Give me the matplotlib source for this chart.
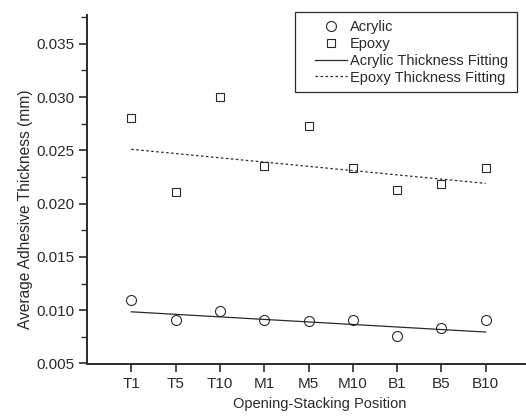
import matplotlib
matplotlib.use("Agg")
import matplotlib.pyplot as plt
from matplotlib.patches import Rectangle
from matplotlib.ticker import MultipleLocator

plt.rcParams['font.family'] = ['Liberation Sans', 'DejaVu Sans']

positions = ['T1', 'T5', 'T10', 'M1', 'M5', 'M10', 'B1', 'B5', 'B10']
acrylic = [0.0110, 0.0091, 0.0099, 0.0091, 0.0090, 0.0091, 0.0076, 0.0083, 0.0091]
epoxy = [0.0280, 0.0211, 0.0300, 0.0235, 0.0273, 0.0233, 0.0213, 0.0218, 0.0233]
# fitted line values at first and last position
acrylic_fit = [0.00985, 0.00795]
epoxy_fit = [0.0251, 0.0219]

ink = '#2a2a2a'
x = list(range(1, len(positions) + 1))

fig = plt.figure(figsize=(5.26, 4.16), dpi=100)
ax = fig.add_axes([87 / 526, 1 - 363.5 / 416, 443 / 526, 348.5 / 416])

ax.plot(x, acrylic, linestyle='none', marker='o', markersize=7.2,
        markerfacecolor='none', markeredgecolor=ink, markeredgewidth=0.8,
        label='Acrylic')
ax.plot(x, epoxy, linestyle='none', marker='s', markersize=6.3,
        markerfacecolor='none', markeredgecolor=ink, markeredgewidth=0.8,
        label='Epoxy')
ax.plot([x[0], x[-1]], acrylic_fit, color=ink, linewidth=0.9,
        label='Acrylic Thickness Fitting')
ax.plot([x[0], x[-1]], epoxy_fit, color=ink, linewidth=0.9,
        linestyle=(0, (2, 2)), label='Epoxy Thickness Fitting')

ax.set_xlim(0, 10)
ax.set_ylim(0.005, 0.0377)
ax.set_xticks(x)
ax.set_xticklabels(positions)
ax.yaxis.set_minor_locator(MultipleLocator(0.0025))
ax.set_yticks([0.005, 0.010, 0.015, 0.020, 0.025, 0.030, 0.035])
ax.set_yticklabels(['0.005', '0.010', '0.015', '0.020', '0.025', '0.030', '0.035'])

for side in ['top', 'right']:
    ax.spines[side].set_visible(False)
for side in ['left', 'bottom']:
    ax.spines[side].set_linewidth(1.4)
    ax.spines[side].set_color(ink)

ax.tick_params(axis='both', which='major', direction='out', length=6,
               width=1.2, color=ink, labelsize=11, labelcolor=ink, pad=3)
ax.tick_params(axis='y', which='minor', direction='out', length=4,
               width=1.0, color=ink)
ax.tick_params(axis='x', pad=4)

ax.set_xlabel('Opening-Stacking Position', fontsize=10.5, color=ink)
ax.set_ylabel('Average Adhesive Thickness (mm)', fontsize=11.2, color=ink)
ax.xaxis.set_label_coords((320 - 87) / 443, -(397 - 363.5) / 348.5)
ax.yaxis.set_label_coords(-(87 - 33) / 443, (363.5 - 209) / 348.5)

leg = ax.legend(loc='upper right', bbox_to_anchor=(515 / 526, 1 - 12.5 / 416),
                bbox_transform=fig.transFigure, fontsize=10.5,
                frameon=False, handlelength=2.2, handletextpad=0.15,
                labelspacing=0.2, borderpad=0.5, borderaxespad=0)
for t in leg.get_texts():
    t.set_color(ink)
# legend frame as drawn in the original
fig.patches.append(Rectangle((295 / 526, 1 - 92 / 416), 222 / 526, 80 / 416,
                             transform=fig.transFigure, fill=False,
                             edgecolor=ink, linewidth=0.9))

fig.savefig('out.png', dpi=100)
